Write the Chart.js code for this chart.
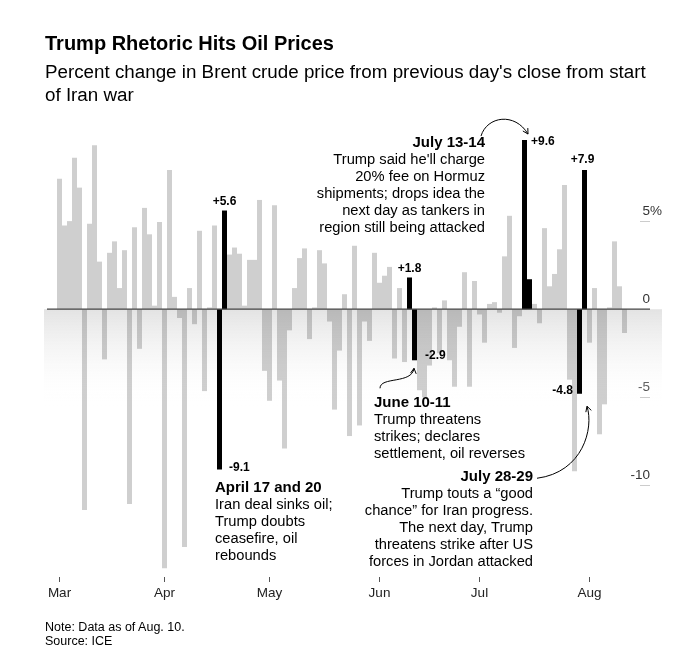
<!DOCTYPE html>
<html>
<head>
<meta charset="utf-8">
<title>Trump Rhetoric Hits Oil Prices</title>
<script src="https://cdn.jsdelivr.net/npm/chart.js"></script>
<style>
    html, body { margin: 0; padding: 0; background: #fff; }
    body { font-family: "Liberation Sans", Arial, Helvetica, sans-serif; color: #000; }
    .wrap { position: relative; width: 696px; height: 667px; overflow: hidden; }
    #chart { position: absolute; left: 0; top: 0; }
    .title { position: absolute; left: 45px; top: 30px; font-size: 20px; font-weight: bold; line-height: 26px; }
    .subtitle { position: absolute; left: 45px; top: 60px; font-size: 18.8px; line-height: 23px; }
    .notes { position: absolute; left: 45px; top: 620px; font-size: 12.5px; line-height: 14px; }
</style>
</head>
<body>
<div class="wrap">
    <canvas id="chart" width="696" height="667"></canvas>
    <div class="title">Trump Rhetoric Hits Oil Prices</div>
    <div class="subtitle">Percent change in Brent crude price from previous day's close from start<br>of Iran war</div>
    <div class="notes">Note: Data as of Aug. 10.<br>Source: ICE</div>
</div>

<script>
    // daily % change in Brent, one value per trading day from the start of the war
    const change = [
        7.4, 4.75, 5.0, 8.6, 6.9, -11.4, 4.85, 9.3, 2.7, -2.85,
        3.2, 3.85, 1.2, 3.35, -11.05, 4.65, -2.25, 5.75, 4.25, 0.2,
        4.95, -14.7, 7.9, 0.7, -0.5, -13.5, 1.2, -0.85, 4.45, -4.65,
        0.1, 4.75, -9.1, 5.6, 3.1, 3.5, 3.15, 0.2, 2.8, 2.8,
        6.2, -3.5, -5.2, 5.9, -4.05, -7.9, -1.2, 1.2, 2.9, 3.45,
        -1.7, 0.1, 3.35, 2.6, -0.7, -5.7, -2.35, 0.85, -7.2, 3.6,
        -6.6, -0.7, -1.8, 3.2, 1.5, 1.9, 2.4, -2.8, 1.2, -3.0,
        1.8, -2.9, -4.6, -5.0, -3.2, 0.1, -2.5, 0.5, -2.9, -4.4,
        -1.0, 2.1, -4.4, 1.6, -0.3, -1.9, 0.3, 0.4, -0.2, 3.0,
        5.3, -2.2, -0.4, 9.6, 1.7, 0.3, -0.8, 4.6, 1.3, 2.0,
        3.4, 7.05, -4.0, -9.2, -4.8, 7.9, -1.9, 1.2, -7.1, -5.4,
        0.1, 3.85, 1.3, -1.35
    ];
    // trading days singled out in black (1-based day number)
    const highlightDays = [33, 34, 71, 72, 94, 95, 105, 106];
    // day shown under each month tick
    const months = ['Mar', 'Apr', 'May', 'Jun', 'Jul', 'Aug'];
    const monthDays = [1, 22, 43, 65, 85, 107];
    const yTicks = [5, 0, -5, -10];
    const yTickLabels = ['5%', '0', '-5', '-10'];

    // empty slots either side of the bars
    const PAD_LEFT = 3;
    const PAD_RIGHT = 7;

    const labels = [];
    const values = [];
    const colors = [];
    for (let i = 0; i < PAD_LEFT + change.length + PAD_RIGHT; i++) {
        const day = i - PAD_LEFT + 1;
        const m = monthDays.indexOf(day);
        labels.push(m >= 0 ? months[m] : '');
        const v = day >= 1 && day <= change.length ? change[day - 1] : null;
        values.push(v);
        colors.push(highlightDays.includes(day) ? '#000' : 'rgba(0,0,0,0.19)');
    }

    // annotation layout (pixel offsets from the bar they describe)
    const valueLabels = [
        { day: 34, dx: 0, dy: -9, align: 'center' },
        { day: 33, dx: 9.5, dy: -2, align: 'left' },
        { day: 71, dx: 0, dy: -9, align: 'center' },
        { day: 72, dx: 10.5, dy: -5, align: 'left' },
        { day: 94, dx: 6.5, dy: 2, align: 'left' },
        { day: 106, dx: -2, dy: -10, align: 'center' },
        { day: 105, dx: -6.5, dy: -3.5, align: 'right' }
    ];
    const callouts = [
        { day: 33, dx: -4.5, dy: 18, align: 'left', head: 'April 17 and 20',
          lines: ['Iran deal sinks oil;', 'Trump doubts', 'ceasefire, oil', 'rebounds'] },
        { day: 72, dx: -40.5, dy: 43, align: 'left', head: 'June 10-11',
          lines: ['Trump threatens', 'strikes; declares', 'settlement, oil reverses'] },
        { day: 94, dx: -39.5, dy: 3, align: 'right', head: 'July 13-14',
          lines: ["Trump said he'll charge", '20% fee on Hormuz', 'shipments; drops idea the', 'next day as tankers in', 'region still being attacked'] },
        { day: 105, dx: -46.5, dy: 83.5, align: 'right', head: 'July 28-29',
          lines: ['Trump touts a \u201cgood', 'chance\u201d for Iran progress.', 'The next day, Trump', 'threatens strike after US', 'forces in Jordan attacked'] }
    ];
    const arrows = [
        { day: 72, pts: [[-34.5, 28], [-34.5, 16], [-2.5, 24], [-0.5, 8]] },
        { day: 94, pts: [[-43.5, -4], [-37.5, -24], [-9.5, -28], [3.5, -6]] },
        { day: 105, pts: [[-42.5, 84.5], [3.5, 78.5], [14.5, 34.5], [7.5, 12.5]] }
    ];

    const FONT = '"Liberation Sans", Arial, Helvetica, sans-serif';
    const TICK_FONT = { family: FONT, size: 13.5 };
    const Y_LABEL_LIFT = -10;

    const decorPlugin = {
        id: 'decor',
        beforeDatasetsDraw(chart) {
            const { ctx, chartArea, scales: { y } } = chart;
            const y0 = y.getPixelForValue(0);
            const y5 = y.getPixelForValue(-5.5);
            const g = ctx.createLinearGradient(0, y0, 0, y5);
            g.addColorStop(0, '#e3e3e3');
            g.addColorStop(1, 'rgba(255,255,255,0)');
            ctx.save();
            ctx.fillStyle = g;
            ctx.fillRect(chartArea.left + 2, y0, chartArea.right - chartArea.left - 2, y5 - y0);
            ctx.restore();
        },
        afterDatasetsDraw(chart) {
            const { ctx, chartArea, scales: { x, y } } = chart;
            const px = d => x.getPixelForValue(d - 1 + PAD_LEFT);
            const py = v => y.getPixelForValue(v);
            ctx.save();

            // zero line and short marks under the axis labels
            ctx.strokeStyle = '#444';
            ctx.lineWidth = 1.2;
            ctx.beginPath();
            ctx.moveTo(chartArea.left + 5, py(0));
            ctx.lineTo(chartArea.right - 12, py(0));
            ctx.stroke();
            ctx.strokeStyle = '#ccc';
            ctx.lineWidth = 1;
            yTicks.filter(v => v !== 0).forEach(v => {
                const yy = Math.round(py(v)) + 0.5;
                ctx.beginPath();
                ctx.moveTo(chartArea.right - 22, yy);
                ctx.lineTo(chartArea.right - 12, yy);
                ctx.stroke();
            });

            // the % sign hangs to the right of the top tick label
            ctx.fillStyle = '#333';
            ctx.textBaseline = 'middle';
            ctx.textAlign = 'left';
            ctx.font = TICK_FONT.size + 'px ' + FONT;
            yTicks.forEach((v, i) => {
                if (yTickLabels[i].endsWith('%')) {
                    ctx.fillText('%', chartArea.right - 12, py(v) + Y_LABEL_LIFT);
                }
            });

            // value labels on the highlighted bars
            ctx.fillStyle = '#000';
            ctx.font = 'bold 12px ' + FONT;
            valueLabels.forEach(l => {
                const v = change[l.day - 1];
                ctx.textAlign = l.align;
                ctx.fillText((v > 0 ? '+' : '') + v.toFixed(1), px(l.day) + l.dx, py(v) + l.dy);
            });

            // callout text
            callouts.forEach(c => {
                const v = change[c.day - 1];
                const tx = px(c.day) + c.dx;
                let ty = py(v) + c.dy;
                ctx.textAlign = c.align;
                ctx.font = 'bold 15px ' + FONT;
                ctx.fillText(c.head, tx, ty);
                ctx.font = '14.7px ' + FONT;
                c.lines.forEach(line => {
                    ty += 17;
                    ctx.fillText(line, tx, ty);
                });
            });

            // curved arrows
            ctx.strokeStyle = '#000';
            ctx.lineWidth = 1;
            arrows.forEach(a => {
                const ax = px(a.day);
                const ay = py(change[a.day - 1]);
                const p = a.pts.map(([dx, dy]) => [ax + dx, ay + dy]);
                ctx.beginPath();
                ctx.moveTo(p[0][0], p[0][1]);
                ctx.bezierCurveTo(p[1][0], p[1][1], p[2][0], p[2][1], p[3][0], p[3][1]);
                ctx.stroke();
                const ang = Math.atan2(p[3][1] - p[2][1], p[3][0] - p[2][0]);
                ctx.beginPath();
                [-0.5, 0.5].forEach(s => {
                    ctx.moveTo(p[3][0], p[3][1]);
                    ctx.lineTo(p[3][0] - 6 * Math.cos(ang + s), p[3][1] - 6 * Math.sin(ang + s));
                });
                ctx.stroke();
            });
            ctx.restore();
        }
    };

    new Chart(document.getElementById('chart'), {
        type: 'bar',
        data: {
            labels: labels,
            datasets: [{
                data: values,
                backgroundColor: colors,
                borderWidth: 0,
                inflateAmount: 0,
                barPercentage: 1,
                categoryPercentage: 1
            }]
        },
        options: {
            responsive: false,
            animation: false,
            layout: { padding: { left: 42, right: 34, top: 133, bottom: 66 } },
            plugins: {
                legend: { display: false },
                tooltip: { enabled: false }
            },
            scales: {
                x: {
                    afterBuildTicks: scale => {
                        scale.ticks = monthDays.map(d => ({ value: d - 1 + PAD_LEFT }));
                    },
                    afterFit: scale => { scale.height = 24; },
                    grid: { drawOnChartArea: false, drawTicks: true, tickLength: 5, offset: false, color: '#555' },
                    border: { display: false },
                    ticks: {
                        autoSkip: false,
                        maxRotation: 0,
                        padding: 3,
                        color: '#222',
                        font: TICK_FONT
                    }
                },
                y: {
                    position: 'right',
                    min: -15.2,
                    max: 10,
                    afterBuildTicks: scale => {
                        scale.ticks = yTicks.map(v => ({ value: v }));
                    },
                    afterFit: scale => { scale.width = 0; },
                    grid: { display: false },
                    border: { display: false },
                    ticks: {
                        mirror: true,
                        padding: -12,
                        labelOffset: Y_LABEL_LIFT,
                        color: '#333',
                        font: TICK_FONT,
                        callback: v => yTickLabels[yTicks.indexOf(v)].replace('%', '')
                    }
                }
            }
        },
        plugins: [decorPlugin]
    });
</script>
</body>
</html>
